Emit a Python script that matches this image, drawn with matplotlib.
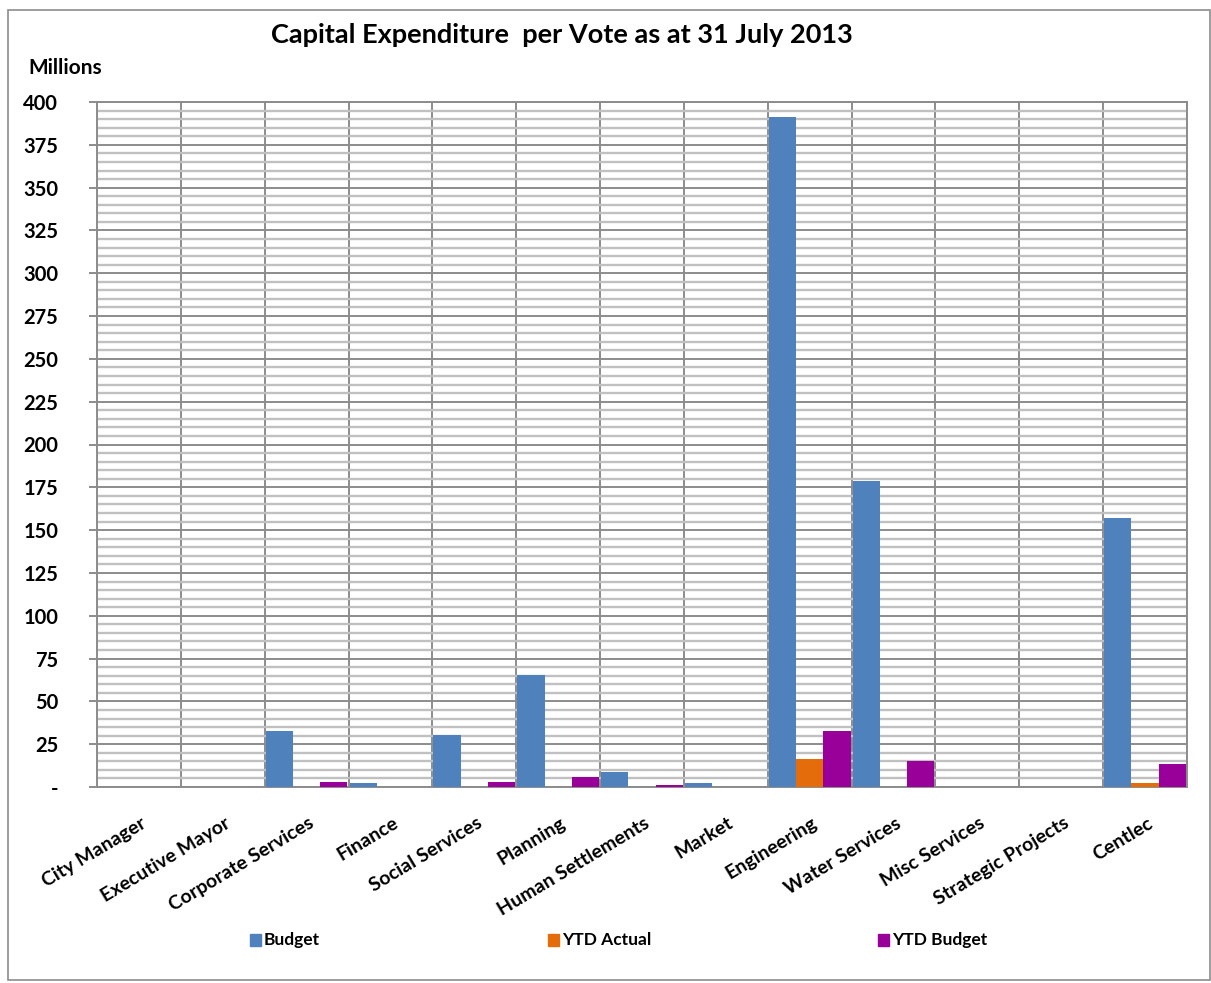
import matplotlib
matplotlib.use("Agg")
import matplotlib.pyplot as plt
import numpy as np
from matplotlib.patches import Rectangle
from matplotlib.ticker import MultipleLocator, FuncFormatter

plt.rcParams['font.family'] = ['Lato', 'DejaVu Sans']

categories = ["City Manager", "Executive Mayor", "Corporate Services", "Finance",
              "Social Services", "Planning", "Human Settlements", "Market",
              "Engineering", "Water Services", "Misc Services", "Strategic Projects",
              "Centlec"]
budget = [0, 0, 32.7, 2.3, 30.4, 65.4, 8.8, 2.3, 391.2, 178.7, 0, 0, 157.0]
ytd_actual = [0, 0, 0, 0, 0, 0, 0, 0, 16.4, 0, 0, 0, 2.3]
ytd_budget = [0, 0, 2.9, 0, 2.9, 5.8, 1.2, 0, 32.7, 15.2, 0, 0, 13.4]
series_names = ["Budget", "YTD Actual", "YTD Budget"]
colors = ["#4F81BD", "#E46C0A", "#990099"]

W, H = 1211, 983
fig = plt.figure(figsize=(W / 100, H / 100), dpi=100)

# outer chart frame
fig.add_artist(Rectangle((8 / W, 1 - 980 / H), (W - 9) / W, (980 - 10) / H,
                         transform=fig.transFigure, fill=False,
                         edgecolor="#8c8c8c", lw=1.2))

left, right, top, bottom = 97, 1187, 102, 787
ax = fig.add_axes([left / W, 1 - bottom / H, (right - left) / W, (bottom - top) / H])

x = np.arange(len(categories))
bw = 0.325
for i, (vals, name, c) in enumerate(zip([budget, ytd_actual, ytd_budget], series_names, colors)):
    ax.bar(x + (i - 1) * bw, vals, width=bw, color=c, label=name, zorder=3)

ax.set_xlim(-0.5, len(categories) - 0.5)
ax.set_ylim(0, 400)

# gridlines: minor every 5, major every 25, vertical at category boundaries
ax.yaxis.set_major_locator(MultipleLocator(25))
ax.yaxis.set_minor_locator(MultipleLocator(5))
ax.grid(which="minor", axis="y", color="#c0c0c0", lw=1.7, zorder=0)
ax.grid(which="major", axis="y", color="#8c8c8c", lw=1.4, zorder=1)
for b in np.arange(-0.5, len(categories), 1.0):
    ax.axvline(b, color="#8c8c8c", lw=1.4, zorder=1)

for s in ["top", "right", "bottom", "left"]:
    ax.spines[s].set_color("#8c8c8c")
    ax.spines[s].set_linewidth(1.4)

ax.yaxis.set_major_formatter(FuncFormatter(lambda v, p: "-" if v == 0 else f"{int(v)}"))
ax.tick_params(axis="y", which="major", length=6, color="#8c8c8c", width=1.4,
               labelsize=14.5, pad=22)
ax.tick_params(axis="y", which="minor", length=0)
for lab in ax.get_yticklabels():
    lab.set_fontweight("bold")

ax.set_xticks(x)
ax.set_xticklabels([])
ax.tick_params(axis="x", length=0)
for xi, name in zip(x, categories):
    ax.text(xi + 0.02, -16, name, rotation=31, rotation_mode="anchor",
            ha="right", va="top", fontsize=14, fontweight="bold",
            transform=ax.transData, clip_on=False)

fig.text(562 / W, 1 - 35 / H, "Capital Expenditure  per Vote as at 31 July 2013",
         ha="center", va="center", fontsize=19.5, fontweight="bold")
fig.text(28 / W, 1 - 68 / H, "Millions", ha="left", va="center",
         fontsize=15, fontweight="bold")

leg_x = [250, 548, 878]
for hx, name, c in zip(leg_x, series_names, colors):
    fig.add_artist(Rectangle(((hx) / W, 1 - 946 / H), 11 / W, 12 / H,
                             transform=fig.transFigure, color=c))
    fig.text((hx + 14) / W, 1 - 940 / H, name, ha="left", va="center",
             fontsize=12.5, fontweight="bold")

fig.savefig("out.png", dpi=100)
